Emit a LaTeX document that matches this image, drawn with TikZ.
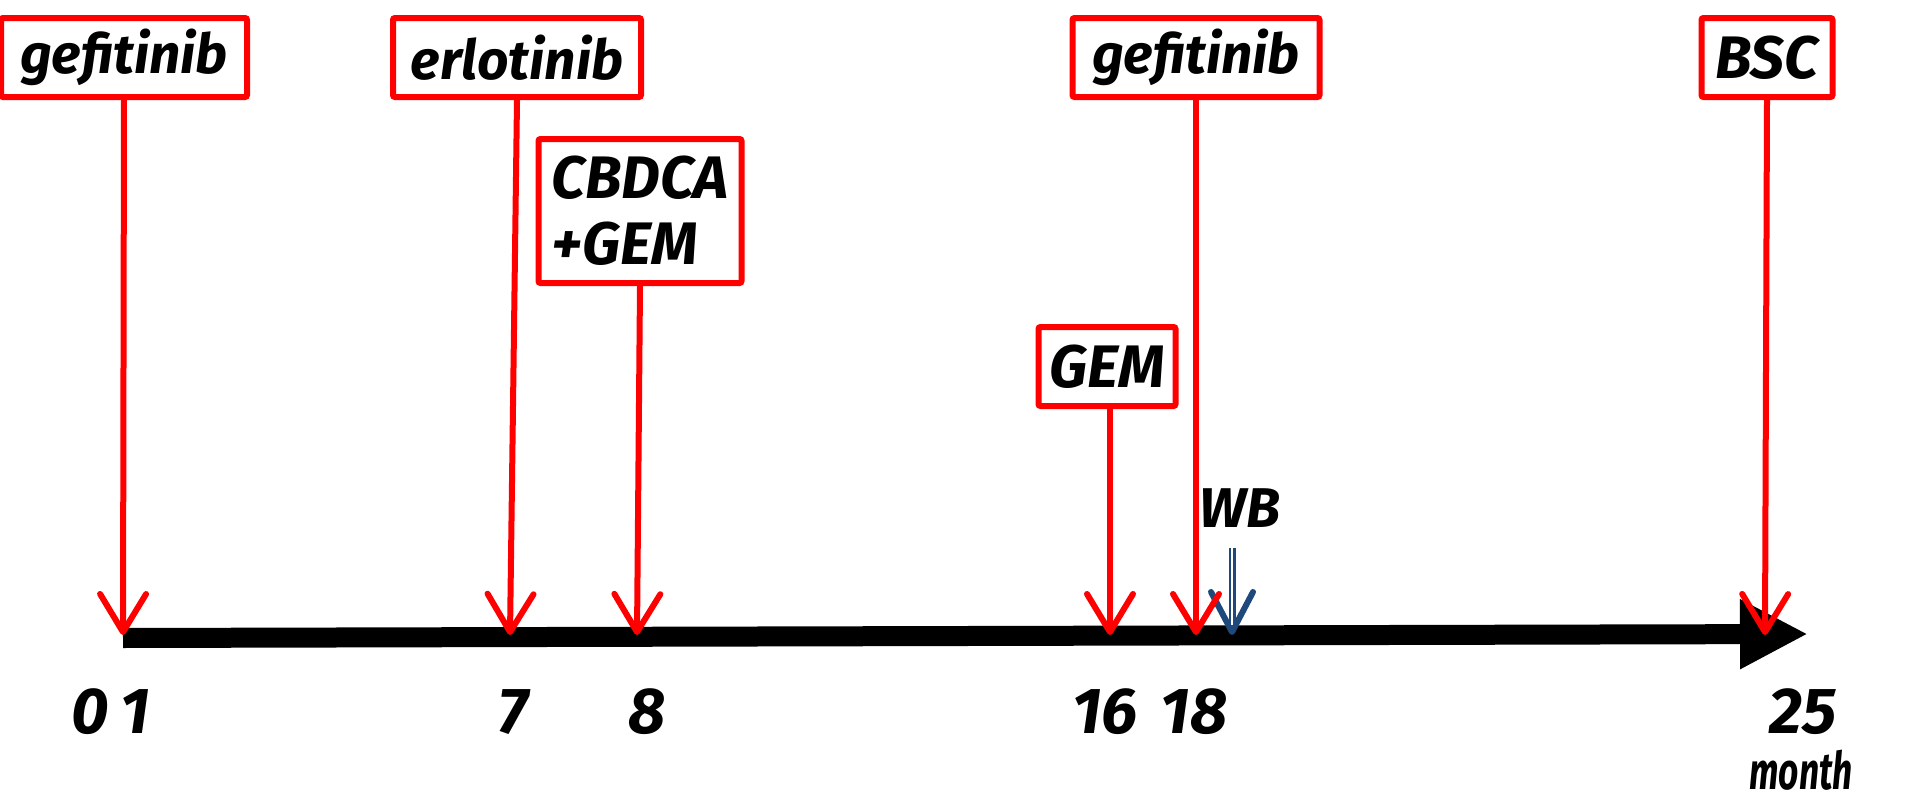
\documentclass[tikz,border=0pt]{standalone}
\usepackage{fontspec}
\newfontfamily\hand{Fira Sans}
\usetikzlibrary{arrows.meta,calc}
\definecolor{tred}{RGB}{255,0,0}
\definecolor{wbblue}{RGB}{31,73,125}
\begin{document}
\begin{tikzpicture}[x=1pt,y=-1pt,
  handfont/.style={font=\hand\bfseries\itshape\fontsize{#1}{#1}\selectfont},
  drugbox/.style={draw=tred, line width=6pt, rounded corners=2pt, fill=white,
    inner sep=0pt, handfont=55},
  capsbox/.style={drugbox, handfont=60},
  pointer/.style={draw=tred, line width=6pt,
    -{Straight Barb[length=38pt,width=46pt,round]}},
  ticklabel/.style={inner sep=0pt, handfont=65},
]
\useasboundingbox (0,0) rectangle (1915,795);

% time axis
\coordinate (axstart) at (123,638);
\coordinate (axend) at (1808,634);
\draw[line width=20pt, -{Triangle[length=68pt,width=65pt]}] (axstart) -- (axend);

% treatment boxes
\node[drugbox, minimum width=246pt, minimum height=79pt] (gef1) at (124,57.5) {gefitinib};
\node[drugbox, minimum width=248pt, minimum height=79pt] (erl) at (517,57.5) {erlotinib};
\node[capsbox, minimum width=203pt, minimum height=144pt, align=left] (cbd) at (640,211)
  {CBDCA\\[6pt]+GEM};
\node[drugbox, minimum width=247pt, minimum height=79pt] (gef2) at (1196,57.5) {gefitinib};
\node[capsbox, minimum width=137pt, minimum height=79pt] (gem) at (1107,366.5) {GEM};
\node[capsbox, minimum width=131pt, minimum height=79pt] (bsc) at (1767,57.5) {BSC};

% WB marker, drawn under the red pointers
\node[inner sep=0pt, handfont=56] (wb) at (1240,508) {WB};
\coordinate (wbtop) at (1232,548);
\coordinate (wbmid) at (1232,580);
\coordinate (wbtip) at (1232,635);
\draw[wbblue, line width=6pt, -{Straight Barb[length=40pt,width=42pt,round]}] (wbmid) -- (wbtip);
\draw[wbblue, line width=2.5pt, double=white, double distance=2pt] (wbtop) -- ($(wbtip)+(0,-10)$);

% arrow tips on the axis
\coordinate (tgef1) at (123,635);
\coordinate (terl) at (510,635);
\coordinate (tcbd) at (637,635);
\coordinate (tgem) at (1110,635);
\coordinate (tgef2) at (1196,635);
\coordinate (tbsc) at (1765,635);

\draw[pointer] (gef1.south) -- (tgef1);
\draw[pointer] (erl.south) -- (terl);
\draw[pointer] (cbd.south) -- (tcbd);
\draw[pointer] (gem.south -| tgem) -- (tgem);
\draw[pointer] (gef2.south) -- (tgef2);
\draw[pointer] (bsc.south) -- (tbsc);

% month labels
\node[ticklabel] (m0) at (90,712) {0};
\node[ticklabel] (m1) at (135,712) {1};
\node[ticklabel] (m7) at (513,712) {7};
\node[ticklabel] (m8) at (647,712) {8};
\node[ticklabel] (m16) at (1105,712) {16};
\node[ticklabel] (m18) at (1194,712) {18};
\node[ticklabel] (m25) at (1803,712) {25};
\node[inner sep=0pt, handfont=52] (unit) at (1801,770) {\scalebox{0.68}[1]{month}};
\end{tikzpicture}
\end{document}
